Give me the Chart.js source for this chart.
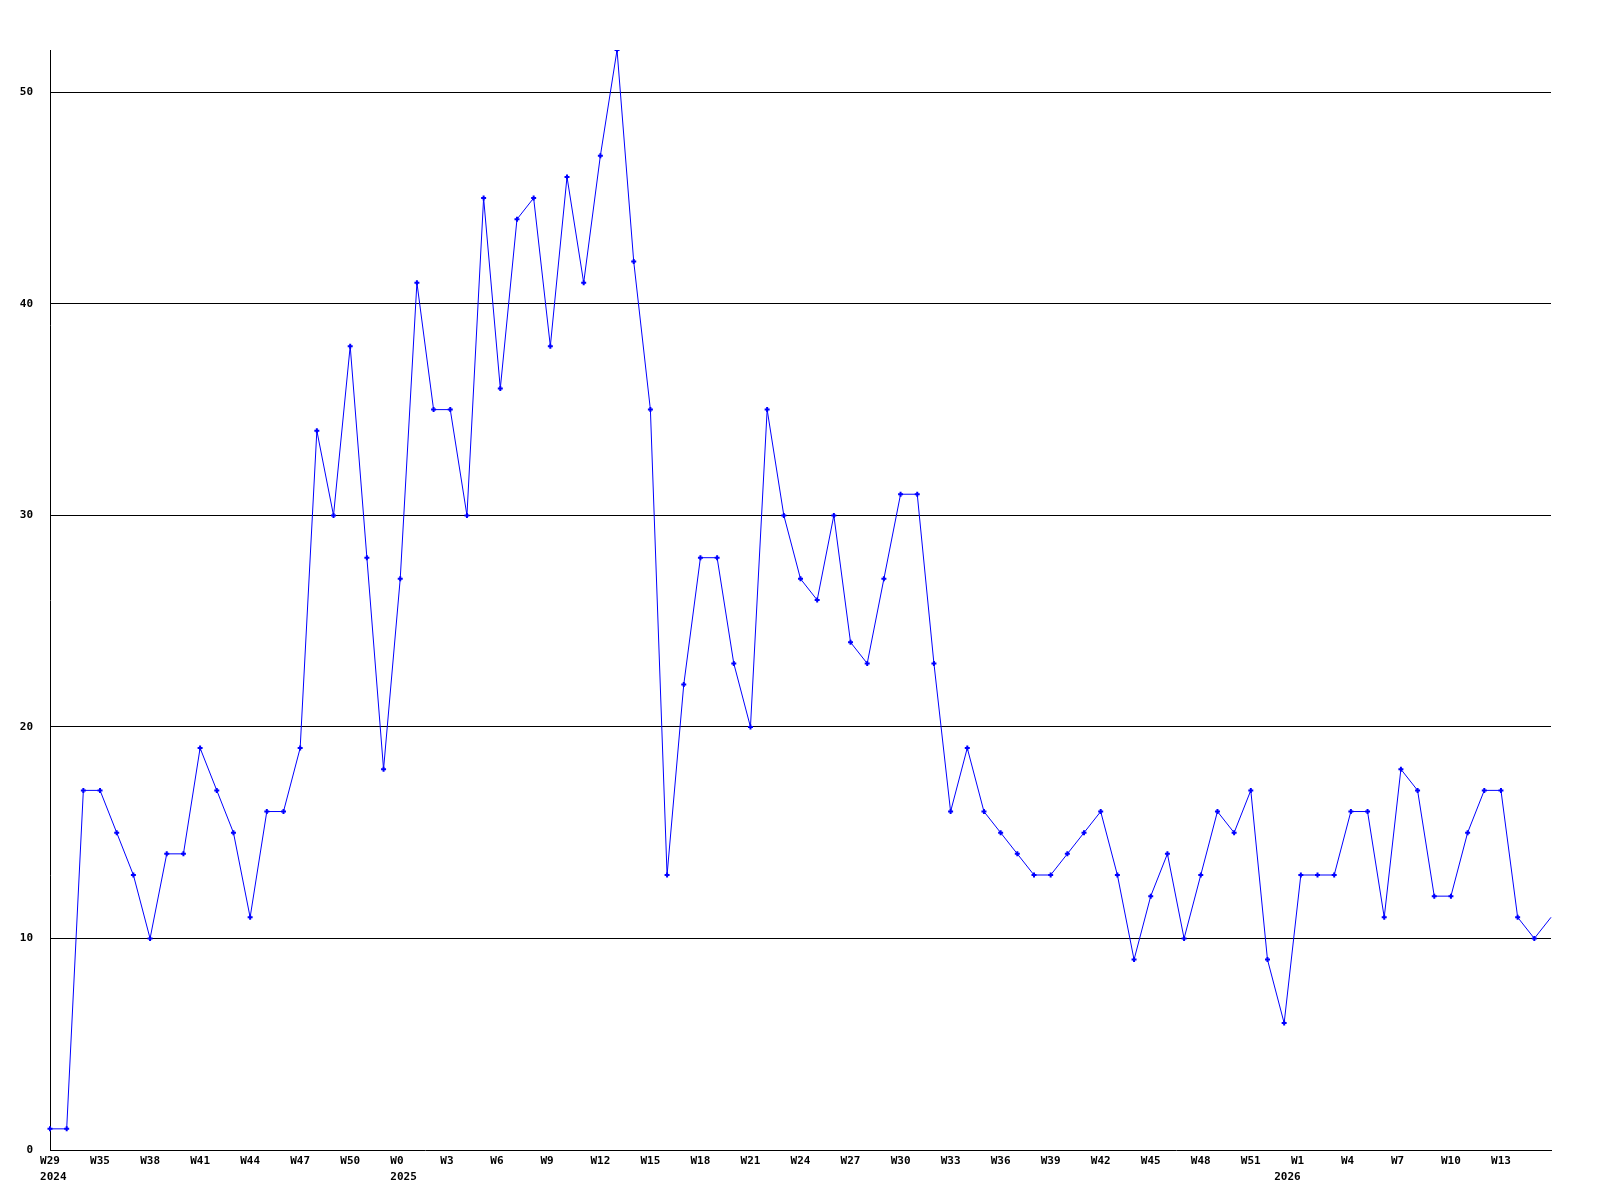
<!DOCTYPE html>
<html>
<head>
<meta charset="utf-8">
<script src="https://cdn.jsdelivr.net/npm/chart.js@4/dist/chart.umd.min.js"></script>
<style>
  html, body { margin: 0; padding: 0; background: #fff; }
  #wrap { width: 1600px; height: 1200px; }
</style>
</head>
<body>
<div id="wrap"><canvas id="grafica" width="1600" height="1200"></canvas></div>
<script>
// valores semanales
var valores = [1, 1, 17, 17, 15, 13, 10, 14, 14, 19, 17, 15, 11, 16, 16, 19, 34, 30, 38, 28,
  18, 27, 41, 35, 35, 30, 45, 36, 44, 45, 38, 46, 41, 47, 52, 42, 35, 13, 22, 28,
  28, 23, 20, 35, 30, 27, 26, 30, 24, 23, 27, 31, 31, 23, 16, 19, 16, 15, 14, 13,
  13, 14, 15, 16, 13, 9, 12, 14, 10, 13, 16, 15, 17, 9, 6, 13, 13, 13, 16, 16,
  11, 18, 17, 12, 12, 15, 17, 17, 11, 10, 11];

// etiquetas del eje x, una cada 3 semanas
var etiquetasSemana = ["W29", "W35", "W38", "W41", "W44", "W47", "W50", "W0", "W3", "W6",
  "W9", "W12", "W15", "W18", "W21", "W24", "W27", "W30", "W33", "W36",
  "W39", "W42", "W45", "W48", "W51", "W1", "W4", "W7", "W10", "W13"];
var anioPos = [0, 21, 74];
var anios = ["2024", "2025", "2026"];
var ticksY = [0, 10, 20, 30, 40, 50];

var categorias = [];
for (var i = 0; i < valores.length; i++) {
  categorias[i] = i;
}

var fuente = { family: "'DejaVu Sans Mono', monospace", size: 11, weight: 'bold', lineHeight: 1.45 };

// texto monoespaciado: se rellena a 3 caracteres para que quede alineado a la izquierda
function semana(idx) {
  if (idx % 3 !== 0) return '';
  var s = etiquetasSemana[idx / 3];
  if (!s) return '';
  while (s.length < 3) s += ' ';
  return s;
}

var grafica = new Chart(document.getElementById("grafica"), {
  type: 'line',
  data: {
    labels: categorias,
    datasets: [{
      data: valores,
      borderColor: '#0000ff',
      backgroundColor: '#0000ff',
      borderWidth: 1,
      tension: 0,
      pointStyle: 'cross',
      pointRadius: function(ctx) { return ctx.dataIndex === valores.length - 1 ? 0 : 2.5; },
      pointBorderWidth: 2,
      pointHoverRadius: 0
    }]
  },
  options: {
    responsive: false,
    animation: false,
    events: [],
    layout: { padding: { top: 50, right: 49, left: 0, bottom: 0 } },
    plugins: { legend: { display: false }, tooltip: { enabled: false } },
    scales: {
      x: {
        type: 'category',
        offset: false,
        grid: { display: false, drawTicks: false },
        border: { display: true, color: '#000', width: 1 },
        afterFit: function(scale) { scale.height = 50; },
        ticks: {
          autoSkip: false,
          maxRotation: 0,
          minRotation: 0,
          padding: 3,
          color: '#000',
          font: fuente,
          callback: function(v, idx) {
            var txt = semana(idx);
            var k = anioPos.indexOf(idx);
            if (k >= 0) return [txt, ' ' + anios[k]];
            return txt;
          }
        }
      },
      y: {
        min: 0,
        max: 52,
        afterFit: function(scale) { scale.width = 50; },
        afterBuildTicks: function(scale) {
          scale.ticks = ticksY.map(function(v) { return { value: v }; });
        },
        grid: {
          color: function(ctx) { return ctx.tick.value === 0 ? 'rgba(0,0,0,0)' : '#000'; },
          lineWidth: 1,
          drawTicks: false
        },
        border: { display: true, color: '#000', width: 1 },
        ticks: {
          padding: 17,
          color: '#000',
          font: fuente
        }
      }
    }
  }
});
</script>
</body>
</html>
